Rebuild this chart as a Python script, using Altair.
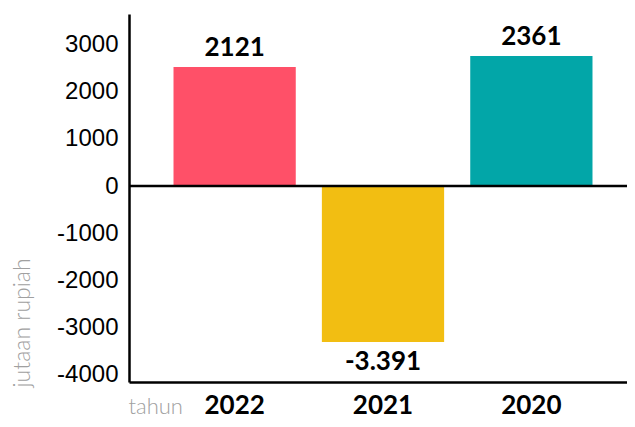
import altair as alt
import pandas as pd

years = ["2022", "2021", "2020"]
values = [2527, -3312, 2760]
labels = ["2121", "-3.391", "2361"]
colors = ["#FF5068", "#F2BE12", "#02A6A8"]
ticks = [-4000, -3000, -2000, -1000, 0, 1000, 2000, 3000]

df = pd.DataFrame({"tahun": years, "nilai": values, "label": labels})

xscale = alt.Scale(range=[0, 508], paddingInner=0.176, paddingOuter=0.3)

xenc = alt.X(
    "tahun:N",
    sort=years,
    scale=xscale,
    axis=alt.Axis(
        title="tahun",
        titleX=-1,
        titleY=31,
        titleAlign="left",
        titleBaseline="alphabetic",
        titleFont="Lato",
        titleFontWeight=300,
        titleFontSize=22,
        titleColor="#a0a0a0",
        labelAngle=0,
        labelFont="Lato",
        labelFontWeight="bold",
        labelFontSize=26,
        labelColor="#000000",
        labelBaseline="alphabetic",
        labelPadding=31,
        ticks=False,
        domainColor="#000000",
        domainWidth=2.5,
    ),
)

yscale = alt.Scale(domain=[-4161, 3652], nice=False, zero=False)

bars = alt.Chart(df).mark_bar().encode(
    x=xenc,
    y=alt.Y(
        "nilai:Q",
        scale=yscale,
        axis=alt.Axis(
            values=ticks,
            labelExpr="datum.value < 0 ? '-' + abs(datum.value) : '' + datum.value",
            title="jutaan rupiah",
            titleAngle=-90,
            titleX=-107,
            titleY=373,
            titleAlign="left",
            titleBaseline="middle",
            titleFont="Lato",
            titleFontWeight=300,
            titleFontSize=23,
            titleColor="#a0a0a0",
            labelFont="Liberation Sans",
            labelFontSize=24,
            labelColor="#000000",
            labelPadding=11,
            ticks=False,
            grid=False,
            domainColor="#000000",
            domainWidth=2.5,
        ),
    ),
    color=alt.Color("tahun:N", scale=alt.Scale(domain=years, range=colors), legend=None),
)

pos_text = alt.Chart(df).transform_filter("datum.nilai >= 0").mark_text(
    baseline="alphabetic", dy=-11, font="Lato", fontWeight="bold", fontSize=26, color="#000000"
).encode(x=alt.X("tahun:N", sort=years), y=alt.Y("nilai:Q", scale=yscale), text="label:N")

neg_text = alt.Chart(df).transform_filter("datum.nilai < 0").mark_text(
    baseline="top", dy=7, font="Lato", fontWeight="bold", fontSize=26, color="#000000"
).encode(x=alt.X("tahun:N", sort=years), y=alt.Y("nilai:Q", scale=yscale), text="label:N")

zero = alt.Chart(pd.DataFrame({"z": [0]})).mark_rule(color="#000000", strokeWidth=2.5).encode(
    y=alt.Y("z:Q", scale=yscale)
)

chart = (
    alt.layer(bars, zero, pos_text, neg_text)
    .properties(
        width=498,
        height=368,
        autosize=alt.AutoSizeParams(type="none"),
        padding={"left": 121, "top": 6, "right": 0, "bottom": 37},
    )
    .configure_view(stroke=None)
)

chart.save("out.html", embed_options={"renderer": "svg", "actions": False})
